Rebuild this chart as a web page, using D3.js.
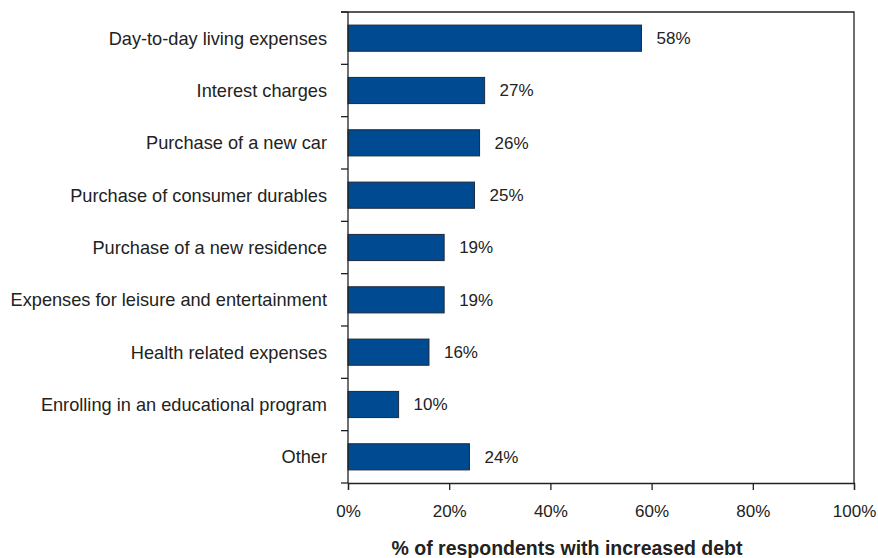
<!DOCTYPE html>
<html>
<head>
<meta charset="utf-8">
<script src="https://cdn.jsdelivr.net/npm/d3@7"></script>
<style>
  body { margin: 0; background: #fff; }
  svg { display: block; font-family: Arial, "Liberation Sans", sans-serif; }
</style>
</head>
<body>
<svg id="chart" width="878" height="558"></svg>
<script>
// Reasons for increased debt, share of respondents
const categories = [
  "Day-to-day living expenses",
  "Interest charges",
  "Purchase of a new car",
  "Purchase of consumer durables",
  "Purchase of a new residence",
  "Expenses for leisure and entertainment",
  "Health related expenses",
  "Enrolling in an educational program",
  "Other"
];
const values = [58, 27, 26, 25, 19, 19, 16, 10, 24];
const xTicks = [0, 20, 40, 60, 80, 100];
const xTitle = "% of respondents with increased debt";

const svg = d3.select("#chart");
const margin = { left: 348, right: 24, top: 12, bottom: 75 };
const W = 878, H = 558;
const x0 = margin.left, x1 = W - margin.right;
const y0 = margin.top, y1 = H - margin.bottom;

const x = d3.scaleLinear().domain([0, 100]).range([x0, x1]);
const y = d3.scaleBand().domain(categories).range([y0, y1]).paddingInner(0.5).paddingOuter(0.25);

// plot frame (top and right)
svg.append("path")
  .attr("d", `M${x0 - 7},${y0}H${x1}V${y1}`)
  .attr("fill", "none").attr("stroke", "#222").attr("stroke-width", 1.3);

// bars
svg.append("g").selectAll("rect")
  .data(values)
  .join("rect")
  .attr("x", x(0))
  .attr("y", (d, i) => y(categories[i]))
  .attr("width", d => x(d) - x(0))
  .attr("height", y.bandwidth())
  .attr("fill", "#004a91")
  .attr("stroke", "#1f2a3a")
  .attr("stroke-width", 1);

// value labels
svg.append("g").selectAll("text")
  .data(values)
  .join("text")
  .attr("x", d => x(d) + 15)
  .attr("y", (d, i) => y(categories[i]) + y.bandwidth() / 2)
  .attr("dy", "0.35em")
  .attr("font-size", 17)
  .attr("fill", "#222")
  .text(d => d + "%");

// category axis: ticks at band boundaries
const step = y.step();
const boundaries = d3.range(categories.length + 1).map(i => y0 + i * step);
const ya = svg.append("g");
ya.append("line").attr("x1", x0).attr("x2", x0).attr("y1", y0).attr("y2", y1)
  .attr("stroke", "#222").attr("stroke-width", 1.3);
ya.selectAll("line.tk").data(boundaries).join("line").attr("class", "tk")
  .attr("x1", x0 - 7).attr("x2", x0).attr("y1", d => d).attr("y2", d => d)
  .attr("stroke", "#222").attr("stroke-width", 1.3);
ya.selectAll("text").data(categories).join("text")
  .attr("x", x0 - 21)
  .attr("y", d => y(d) + y.bandwidth() / 2)
  .attr("dy", "0.35em")
  .attr("text-anchor", "end")
  .attr("font-size", 18.2)
  .attr("fill", "#222")
  .text(d => d);

// value axis
const xAxis = d3.axisBottom(x).tickValues(xTicks).tickFormat(d => d + "%").tickSize(7).tickPadding(0);
const xa = svg.append("g").attr("transform", `translate(0,${y1})`).call(xAxis);
xa.select(".domain").attr("stroke", "#222").attr("stroke-width", 1.3);
xa.selectAll(".tick line").attr("stroke", "#222").attr("stroke-width", 1.3);
xa.selectAll(".tick text").attr("font-size", 17).attr("fill", "#222")
  .attr("y", 34).attr("dy", null)
  .attr("font-family", "Arial, 'Liberation Sans', sans-serif");

// axis title
svg.append("text")
  .attr("x", 567)
  .attr("y", 555)
  .attr("text-anchor", "middle")
  .attr("font-size", 19.5)
  .attr("font-weight", "bold")
  .attr("fill", "#222")
  .text(xTitle);
</script>
</body>
</html>
